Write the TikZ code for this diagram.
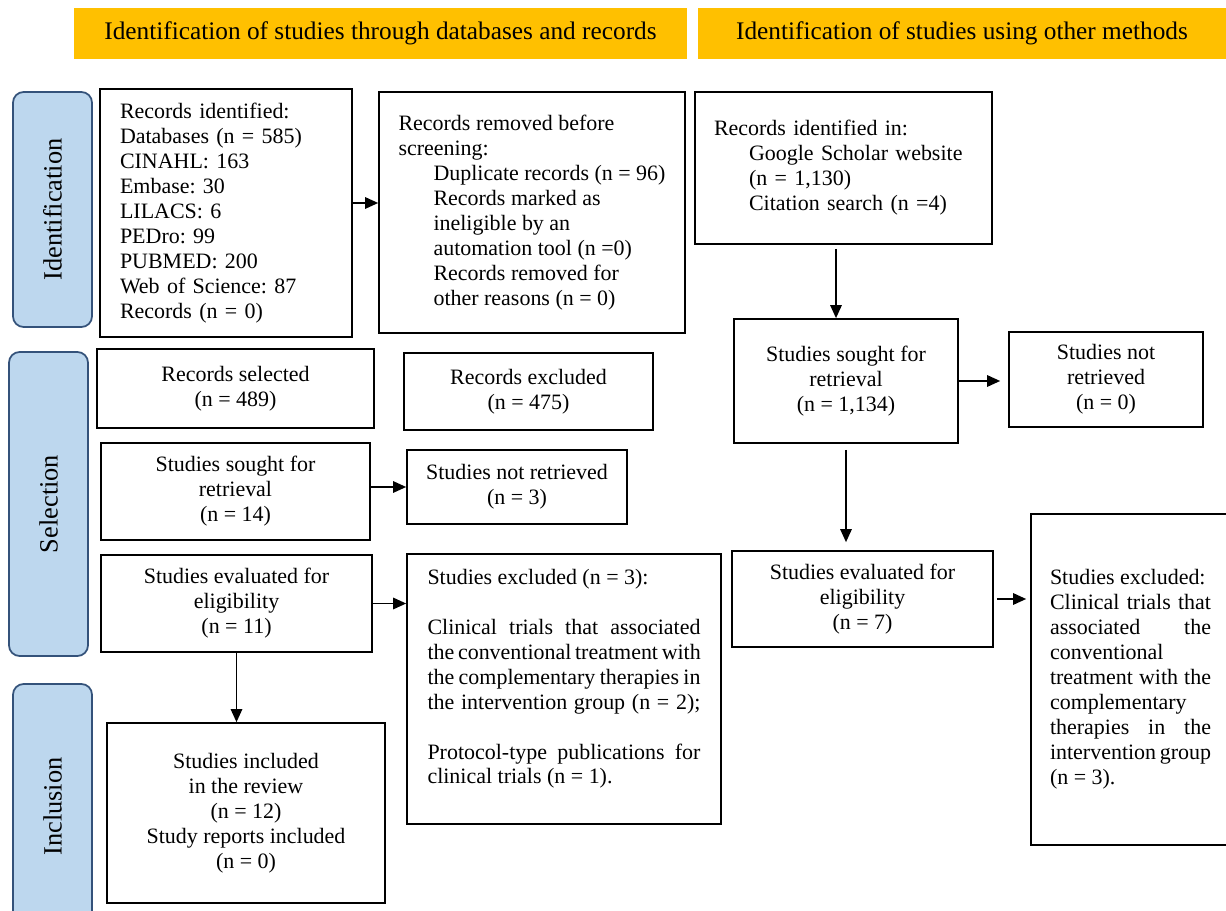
\documentclass[tikz,border=0pt]{standalone}
\usepackage{fontspec}
\setmainfont{Liberation Serif}
\usepackage{tikz}
\usetikzlibrary{arrows.meta}
\definecolor{PRamber}{HTML}{FFC000}
\definecolor{PRsky}{HTML}{BDD7EE}
\definecolor{PRnavy}{HTML}{34527A}
\newcommand{\spreadline}[2]{\makebox[#1][s]{#2}}
\frenchspacing

\begin{document}
\begin{tikzpicture}[
      x=0.02cm, y=-0.02cm,
      >={Triangle[length=0.26cm, width=0.23cm]},
      font=\fontsize{12.5}{14.2}\selectfont,
      hdrbar/.style={
        rectangle, fill=PRamber, inner sep=0pt,
        minimum height=1.02cm,
        font=\fontsize{14.4}{16}\selectfont
      },
      phasebox/.style={
        rectangle, rounded corners=6pt,
        draw=PRnavy, fill=PRsky, line width=1pt,
        rotate=90, inner sep=0pt, minimum height=1.58cm,
        font=\fontsize{15}{17}\selectfont
      },
      flowbox/.style={
        rectangle, draw=black, line width=1pt,
        inner sep=0pt, align=center
      },
      flowarr/.style={->, line width=0.8pt}
    ]
    \useasboundingbox (0,0) rectangle (1226,911);

    % Header bars
    \node[hdrbar, minimum width=12.26cm] (hdrdb) at (380.5,33.5)
      {Identification of studies through databases and records};
    \node[hdrbar, minimum width=10.56cm] (hdrother) at (962,33.5)
      {Identification of studies using other methods};

    % Phase labels on the left
    \node[phasebox, minimum width=4.7cm]  (phid)  at (52.5,209.5) {Identification};
    \node[phasebox, minimum width=6.08cm] (phsel) at (48.5,504)   {Selection};
    \node[phasebox, minimum width=4.9cm]  (phinc) at (52.5,806.5) {Inclusion};

    % Databases and records: identification
    \node[flowbox, align=left, text width=4.24cm,
          minimum width=5.04cm, minimum height=4.96cm] (recid) at (226,213)
      {Records identified:\\Databases (n = 585)\\CINAHL: 163\\Embase: 30\\LILACS: 6\\
       PEDro: 99\\PUBMED: 200\\Web of Science: 87\\Records (n = 0)};
    \node[flowbox, align=left, minimum width=6.12cm, minimum height=4.82cm] (recrem) at (532,212.5)
      {Records removed before\\screening:\\
       \hspace*{0.7cm}Duplicate records (n = 96)\\
       \hspace*{0.7cm}Records marked as\\
       \hspace*{0.7cm}ineligible by an\\
       \hspace*{0.7cm}automation tool (n =0)\\
       \hspace*{0.7cm}Records removed for\\
       \hspace*{0.7cm}other reasons (n = 0)};

    % Databases and records: selection
    \node[flowbox, minimum width=5.54cm, minimum height=1.58cm] (recsel) at (235.5,388.5)
      {Records selected\\(n = 489)};
    \node[flowbox, minimum width=4.98cm, minimum height=1.54cm] (recexc) at (528.5,391.5)
      {Records excluded\\(n = 475)};
    \node[flowbox, minimum width=5.38cm, minimum height=1.94cm] (sought) at (235.5,491.5)
      {Studies sought for\\retrieval\\(n = 14)};
    \node[flowbox, minimum width=4.4cm, minimum height=1.48cm] (notret) at (517,487)
      {Studies not retrieved\\(n = 3)};
    \node[flowbox, minimum width=5.42cm, minimum height=1.94cm] (evalA) at (236.5,603.5)
      {Studies evaluated for\\eligibility\\(n = 11)};
    \node[flowbox, align=left, minimum width=6.28cm, minimum height=5.4cm] (exclA) at (564,689)
      {Studies excluded (n = 3):\\[0.5cm]
       \spreadline{5.46cm}{Clinical trials that associated}\\
       \spreadline{5.46cm}{the conventional treatment with}\\
       \spreadline{5.46cm}{the complementary therapies in}\\
       \spreadline{5.46cm}{the intervention group (n = 2);}\\[0.5cm]
       \spreadline{5.46cm}{Protocol-type publications for}\\
       clinical trials (n = 1).\\ \mbox{}};

    % Databases and records: inclusion
    \node[flowbox, minimum width=5.56cm, minimum height=3.6cm] (inclA) at (246,813)
      {Studies included\\in the review\\(n = 12)\\Study reports included\\(n = 0)};

    % Other methods column
    \node[flowbox, align=left, text width=5.18cm,
          minimum width=5.94cm, minimum height=3.04cm] (othid) at (843.5,168)
      {Records identified in:\\
       \hspace*{0.7cm}Google Scholar website\\
       \hspace*{0.7cm}(n = 1,130)\\
       \hspace*{0.7cm}Citation search (n =4)};
    \node[flowbox, minimum width=4.48cm, minimum height=2.48cm] (othsought) at (846,381)
      {Studies sought for\\retrieval\\(n = 1,134)};
    \node[flowbox, minimum width=3.88cm, minimum height=1.9cm] (othnot) at (1106,379.5)
      {Studies not\\retrieved\\(n = 0)};
    \node[flowbox, minimum width=5.22cm, minimum height=1.92cm] (otheval) at (862.5,599)
      {Studies evaluated for\\eligibility\\(n = 7)};
    \node[flowbox, align=left, minimum width=3.98cm, minimum height=6.62cm] (othexcl) at (1130.5,679.5)
      {Studies excluded:\\
       \spreadline{3.22cm}{Clinical trials that}\\
       \spreadline{3.22cm}{associated the}\\
       conventional\\
       \spreadline{3.22cm}{treatment with the}\\
       complementary\\
       \spreadline{3.22cm}{therapies in the}\\
       \spreadline{3.22cm}{intervention group}\\
       (n = 3).};

    % Arrows, left column
    \draw[flowarr] ([yshift=0.2cm]recid.east) -- ([yshift=0.2cm]recid.east -| recrem.west);
    \draw[flowarr] (sought.east |- notret.west) -- (notret.west);
    \draw[flowarr] (evalA.east) -- (evalA.east -| exclA.west);
    \draw[flowarr] (evalA.south) -- (evalA.south |- inclA.north);

    % Arrows, right column
    \draw[flowarr, shorten <=0.08cm]
      ([xshift=-0.15cm]othid.south) -- ([xshift=-0.15cm]othid.south |- othsought.north);
    \draw[flowarr, shorten >=0.16cm] (othsought.east) -- (othsought.east -| othnot.west);
    \draw[flowarr, shorten <=0.12cm, shorten >=0.16cm]
      (othsought.south) -- (othsought.south |- otheval.north);
    \draw[flowarr, shorten <=0.06cm, shorten >=0.08cm]
      (otheval.east) -- (otheval.east -| othexcl.west);
  \end{tikzpicture}
\end{document}
